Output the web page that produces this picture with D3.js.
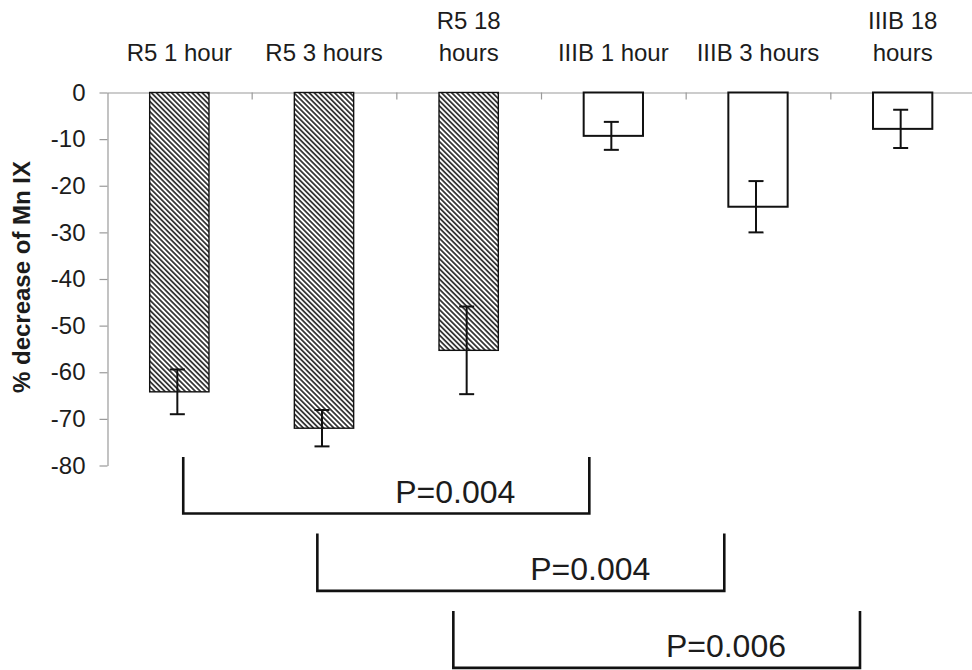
<!DOCTYPE html>
<html>
<head>
<meta charset="utf-8">
<script src="https://cdn.jsdelivr.net/npm/d3@7"></script>
<style>
  html, body { margin: 0; padding: 0; background: #fff; }
  svg { display: block; font-family: "Liberation Sans", Arial, Helvetica, sans-serif; }
</style>
</head>
<body>
<svg id="chart" width="972" height="670"></svg>
<script>
// Conditions (one bar each), shown as column headings above the zero line
const categories = ["R5 1 hour", "R5 3 hours", "R5 18 hours", "IIIB 1 hour", "IIIB 3 hours", "IIIB 18 hours"];
const headingLines = [["R5 1 hour"], ["R5 3 hours"], ["R5 18", "hours"], ["IIIB 1 hour"], ["IIIB 3 hours"], ["IIIB 18", "hours"]];
const groups = ["R5", "R5", "R5", "IIIB", "IIIB", "IIIB"];

// Mean % decrease of Mn IX and its error (±)
const means  = [-64.2, -72.0, -55.3, -9.3, -24.5, -7.8];
const errors = [4.8, 3.9, 9.4, 3.0, 5.5, 4.1];

const yTicks = [0, -10, -20, -30, -40, -50, -60, -70, -80];

// Significance brackets: spans in category-index units, levels in axis units
const bracketLabels = ["P=0.004", "P=0.004", "P=0.006"];
const bracketFrom   = [0.527, 1.454, 2.394];
const bracketTo     = [3.334, 4.267, 5.205];
const bracketTop    = [-78.2, -94.6, -111.2];
const bracketBottom = [-90.3, -106.9, -123.4];

(function draw() {
  const svg = d3.select("#chart");
  const plotLeft = 107, plotRight = 975, plotTop = 92.5, plotBottom = 465.5;

  const x = d3.scaleBand().domain(categories).range([plotLeft, plotRight]).paddingInner(0.59).paddingOuter(0.295);
  const xIdx = d3.scaleLinear().domain([0, categories.length]).range([plotLeft, plotRight]);
  const y = d3.scaleLinear().domain([-80, 0]).range([plotBottom, plotTop]);

  // Diagonal hatching for the R5 bars
  const defs = svg.append("defs");
  const pat = defs.append("pattern")
    .attr("id", "hatch")
    .attr("patternUnits", "userSpaceOnUse")
    .attr("width", 3.6).attr("height", 3.6)
    .attr("patternTransform", "rotate(45)");
  pat.append("rect").attr("width", 3.6).attr("height", 3.6).attr("fill", "#fff");
  pat.append("line").attr("x1", 0).attr("x2", 3.6).attr("y1", 1.8).attr("y2", 1.8)
    .attr("stroke", "#2b2b2b").attr("stroke-width", 1.7);

  const axisColor = "#9a9a9a";
  const textColor = "#1c1c1c";

  // Y axis (plain hyphen for negative numbers)
  const yAxis = d3.axisLeft(y).tickValues(yTicks).tickFormat(d => String(d))
    .tickSize(8).tickSizeOuter(0).tickPadding(14);
  const gy = svg.append("g").attr("transform", `translate(${plotLeft + 0.5},0)`).call(yAxis);
  gy.select(".domain").attr("stroke", axisColor).attr("stroke-width", 1.2);
  gy.selectAll(".tick line").attr("stroke", axisColor).attr("stroke-width", 1.2);
  gy.selectAll(".tick text").attr("fill", textColor).attr("font-size", 24)
    .attr("font-family", "'Liberation Sans', Arial, sans-serif");

  // Zero line with category separators pointing down
  const xAxis = d3.axisBottom(xIdx).tickValues(d3.range(1, categories.length)).tickSize(7).tickSizeOuter(0).tickFormat("");
  const gx = svg.append("g").attr("transform", `translate(0,${y(0)})`).call(xAxis);
  gx.select(".domain").attr("stroke", axisColor).attr("stroke-width", 1.2);
  gx.selectAll(".tick line").attr("stroke", axisColor).attr("stroke-width", 1.2);

  // Column headings
  const head = svg.append("g").attr("font-size", 24).attr("fill", textColor).attr("text-anchor", "middle");
  categories.forEach((c, i) => {
    const lines = headingLines[i];
    const cx = x(c) + x.bandwidth() / 2;
    lines.forEach((ln, k) => {
      head.append("text")
        .attr("x", cx)
        .attr("y", 61 - (lines.length - 1 - k) * 32)
        .text(ln);
    });
  });

  // Y axis title
  svg.append("text")
    .attr("transform", `translate(30,${(plotTop + plotBottom) / 2 - 2}) rotate(-90)`)
    .attr("text-anchor", "middle")
    .attr("font-size", 24)
    .attr("font-weight", "bold")
    .attr("fill", textColor)
    .text("% decrease of Mn IX");

  // Bars
  svg.append("g").selectAll("rect")
    .data(categories)
    .join("rect")
    .attr("x", d => x(d))
    .attr("y", y(0))
    .attr("width", x.bandwidth())
    .attr("height", (d, i) => y(means[i]) - y(0))
    .attr("fill", (d, i) => groups[i] === "R5" ? "url(#hatch)" : "#fff")
    .attr("stroke", "#111")
    .attr("stroke-width", (d, i) => groups[i] === "R5" ? 1.4 : 2);

  // Error bars
  const eb = svg.append("g").attr("stroke", "#111").attr("stroke-width", 2).attr("fill", "none");
  categories.forEach((c, i) => {
    const cx = x(c) + x.bandwidth() / 2 - 2;
    const hi = y(means[i] + errors[i]);
    const lo = y(means[i] - errors[i]);
    eb.append("line").attr("x1", cx).attr("x2", cx).attr("y1", hi).attr("y2", lo);
    eb.append("line").attr("x1", cx - 7.5).attr("x2", cx + 7.5).attr("y1", hi).attr("y2", hi);
    eb.append("line").attr("x1", cx - 7.5).attr("x2", cx + 7.5).attr("y1", lo).attr("y2", lo);
  });

  // Significance brackets
  const br = svg.append("g");
  bracketLabels.forEach((lab, i) => {
    const x0 = xIdx(bracketFrom[i]), x1 = xIdx(bracketTo[i]);
    const yt = y(bracketTop[i]), yb = y(bracketBottom[i]);
    br.append("path")
      .attr("d", `M${x0},${yt} V${yb} H${x1} V${yt}`)
      .attr("fill", "none")
      .attr("stroke", "#111")
      .attr("stroke-width", 2.6);
    br.append("text")
      .attr("x", x1 - 74)
      .attr("y", yb - 11)
      .attr("text-anchor", "end")
      .attr("font-size", 32)
      .attr("fill", textColor)
      .text(lab);
  });
})();
</script>
</body>
</html>
